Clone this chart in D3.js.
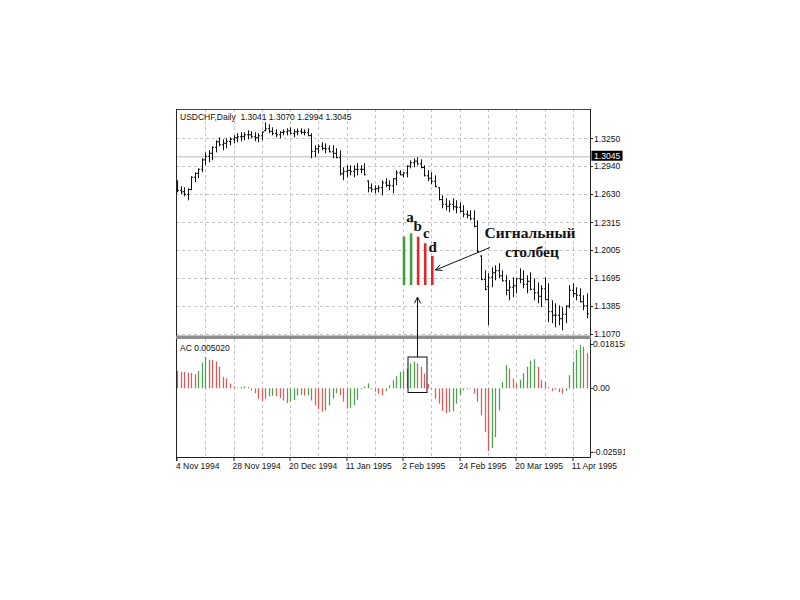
<!DOCTYPE html>
<html><head><meta charset="utf-8">
<script src="https://cdn.jsdelivr.net/npm/d3@7/dist/d3.min.js"></script>
<style>body{margin:0;background:#fff}svg{display:block}</style>
</head><body>
<svg id="c" width="800" height="600"></svg>
<script>
// ---------- data ----------
const tickLabels = ["4 Nov 1994","28 Nov 1994","20 Dec 1994","11 Jan 1995","2 Feb 1995","24 Feb 1995","20 Mar 1995","11 Apr 1995"];
const tickIndex  = [0,16,32,48,64,80,96,112];
const priceTicks = [1.3250,1.2940,1.2630,1.2315,1.2005,1.1695,1.1385,1.1070];
const acTicks    = [0.018158,0.00,-0.02591];
const acTickText = ["0.018158","0.00","-0.02591"];
const lastPrice  = 1.3045;
const headerText = "USDCHF,Daily  1.3041 1.3070 1.2994 1.3045";
const acHeader   = "AC 0.005020";

const high = [1.2783,1.2716,1.2705,1.2694,1.2827,1.2872,1.2916,1.3028,1.3094,1.3117,
1.3161,1.3228,1.3261,1.3239,1.3250,1.3261,1.3283,1.3306,1.3317,1.3317,
1.3339,1.3328,1.3317,1.3306,1.3328,1.3428,1.3406,1.3372,1.3350,1.3328,
1.3350,1.3361,1.3372,1.3350,1.3361,1.3361,1.3350,1.3361,1.3306,1.3172,
1.3183,1.3206,1.3194,1.3172,1.3172,1.3139,1.3117,1.2927,1.2950,1.2950,
1.2950,1.2972,1.2950,1.2972,1.2783,1.2749,1.2727,1.2727,1.2783,1.2805,
1.2783,1.2805,1.2894,1.2894,1.2872,1.2950,1.3005,1.3028,1.3039,1.3016,
1.2950,1.2894,1.2872,1.2838,1.2705,1.2616,1.2583,1.2560,1.2583,1.2560,
1.2538,1.2505,1.2449,1.2449,1.2449,1.2338,1.1949,1.1782,1.1749,1.1815,
1.1837,1.1860,1.1782,1.1726,1.1671,1.1704,1.1693,1.1804,1.1782,1.1726,
1.1760,1.1693,1.1648,1.1615,1.1704,1.1637,1.1448,1.1415,1.1393,1.1371,
1.1393,1.1615,1.1637,1.1593,1.1582,1.1504,1.1526];
const low = [1.2649,1.2627,1.2605,1.2560,1.2672,1.2761,1.2805,1.2872,1.2950,1.2983,
1.3005,1.3094,1.3161,1.3117,1.3139,1.3172,1.3194,1.3206,1.3217,1.3228,
1.3239,1.3250,1.3217,1.3206,1.3228,1.3328,1.3306,1.3283,1.3261,1.3250,
1.3283,1.3283,1.3295,1.3261,1.3283,1.3295,1.3283,1.3272,1.3028,1.3039,
1.3083,1.3117,1.3083,1.3094,1.3028,1.3028,1.2838,1.2783,1.2816,1.2838,
1.2816,1.2838,1.2861,1.2838,1.2649,1.2649,1.2638,1.2649,1.2616,1.2705,
1.2672,1.2638,1.2727,1.2838,1.2816,1.2816,1.2916,1.2927,1.2950,1.2916,
1.2827,1.2772,1.2738,1.2705,1.2560,1.2471,1.2449,1.2427,1.2449,1.2416,
1.2427,1.2371,1.2360,1.2338,1.2260,1.1982,1.1671,1.1559,1.1170,1.1593,
1.1671,1.1693,1.1660,1.1504,1.1448,1.1482,1.1526,1.1637,1.1582,1.1526,
1.1559,1.1448,1.1415,1.1371,1.1448,1.1204,1.1193,1.1148,1.1170,1.1114,
1.1193,1.1360,1.1482,1.1448,1.1426,1.1337,1.1248];
const open = [1.2740,1.2672,1.2655,1.2627,1.2680,1.2816,1.2860,1.2905,1.3010,1.3050,
1.3083,1.3150,1.3211,1.3178,1.3195,1.3216,1.3239,1.3256,1.3267,1.3272,
1.3289,1.3289,1.3267,1.3256,1.3278,1.3335,1.3356,1.3328,1.3305,1.3289,
1.3316,1.3322,1.3333,1.3305,1.3322,1.3328,1.3316,1.3316,1.3280,1.3105,
1.3133,1.3161,1.3138,1.3133,1.3100,1.3083,1.3035,1.2855,1.2883,1.2894,
1.2883,1.2905,1.2905,1.2905,1.2775,1.2699,1.2683,1.2688,1.2700,1.2755,
1.2727,1.2722,1.2800,1.2866,1.2844,1.2865,1.2940,1.2978,1.2995,1.2966,
1.2925,1.2833,1.2805,1.2772,1.2700,1.2568,1.2516,1.2494,1.2516,1.2488,
1.2483,1.2438,1.2405,1.2394,1.2355,1.2270,1.1940,1.1680,1.1600,1.1704,
1.1754,1.1777,1.1721,1.1665,1.1560,1.1593,1.1610,1.1688,1.1682,1.1626,
1.1660,1.1571,1.1532,1.1493,1.1576,1.1455,1.1321,1.1282,1.1282,1.1243,
1.1293,1.1385,1.1560,1.1521,1.1504,1.1432,1.1387];
const close = [1.2672,1.2655,1.2627,1.2680,1.2816,1.2860,1.2905,1.3010,1.3050,1.3083,
1.3150,1.3211,1.3178,1.3195,1.3216,1.3239,1.3256,1.3267,1.3272,1.3289,
1.3289,1.3267,1.3256,1.3278,1.3320,1.3356,1.3328,1.3305,1.3289,1.3316,
1.3322,1.3333,1.3305,1.3322,1.3328,1.3316,1.3316,1.3280,1.3105,1.3133,
1.3161,1.3138,1.3133,1.3100,1.3083,1.3035,1.2855,1.2883,1.2894,1.2883,
1.2905,1.2905,1.2905,1.2845,1.2699,1.2683,1.2688,1.2700,1.2755,1.2727,
1.2722,1.2800,1.2866,1.2844,1.2865,1.2940,1.2978,1.2995,1.2966,1.2925,
1.2833,1.2805,1.2772,1.2712,1.2568,1.2516,1.2494,1.2516,1.2488,1.2483,
1.2438,1.2405,1.2394,1.2355,1.2270,1.1990,1.1680,1.1570,1.1704,1.1754,
1.1777,1.1721,1.1665,1.1560,1.1593,1.1610,1.1688,1.1682,1.1626,1.1660,
1.1571,1.1532,1.1493,1.1576,1.1455,1.1321,1.1282,1.1282,1.1243,1.1293,
1.1385,1.1560,1.1521,1.1504,1.1432,1.1387,1.1300];
const ac = [0.0071,0.0068,0.0067,0.0064,0.0063,0.0058,0.0071,0.0106,0.0129,0.0117,
0.0116,0.0109,0.0088,0.0047,0.0040,0.0019,0.0008,0.0003,0.0005,0.0008,
0.0005,-0.0008,-0.0020,-0.0043,-0.0052,-0.0043,-0.0033,-0.0030,-0.0032,-0.0040,
-0.0050,-0.0060,-0.0056,-0.0048,-0.0030,-0.0027,-0.0030,-0.0028,-0.0050,-0.0070,
-0.0085,-0.0096,-0.0090,-0.0070,-0.0042,-0.0020,-0.0028,-0.0055,-0.0083,-0.0080,
-0.0069,-0.0047,-0.0004,0.0007,0.0020,-0.0003,-0.0014,-0.0023,-0.0029,-0.0012,
0.0012,0.0033,0.0050,0.0067,0.0072,0.0081,0.0102,0.0109,0.0102,0.0088,
0.0061,0.0017,-0.0004,-0.0043,-0.0063,-0.0092,-0.0102,-0.0098,-0.0094,-0.0063,
-0.0028,-0.0008,-0.0004,0.0002,-0.0021,-0.0055,-0.0110,-0.0180,-0.0257,-0.0245,
-0.0200,-0.0091,0.0026,0.0095,0.0081,0.0040,0.0020,0.0035,0.0062,0.0088,
0.0113,0.0119,0.0088,0.0033,0.0027,0.0005,-0.0012,-0.0006,-0.0016,-0.0022,
-0.0010,0.0054,0.0109,0.0157,0.0177,0.0170,0.0144];
const signalIndex = [66,67,68,69,70];
const signalLabels = ["","a","b","c","d"];
const noteLines = ["Сигнальный","столбец"];

// ---------- drawing ----------
const svg = d3.select("#c");
const L = 176, R = 590, T = 109, B = 457;
const GREEN = "#4c9f4c", RED = "#e05858";
const sans = "'Liberation Sans', Arial, sans-serif";
const serif = "'Liberation Serif', 'Times New Roman', serif";

svg.append("defs").append("clipPath").attr("id","cl")
  .append("rect").attr("x",0).attr("y",0).attr("width",625).attr("height",600);
const g = svg.append("g").attr("clip-path","url(#cl)");

const x = d3.scaleLinear().domain([0, high.length - 1]).range([177, 587]);
const px = i => Math.round(x(i)) + 0.5;
const yP = d3.scaleLinear().domain([1.1051, 1.3576]).range([336, T]);
const yA = d3.scaleLinear().domain([-0.02816, 0.0202]).range([B, 339]);

// grid
const gridC = "#c4c4c4";
const vgrid = d3.range(8, high.length, 8);
g.selectAll(".vg").data(vgrid).join("line")
  .attr("x1", px).attr("x2", px).attr("y1", T).attr("y2", 336)
  .attr("stroke", gridC).attr("stroke-dasharray","3,3");
g.selectAll(".vg2").data(vgrid).join("line")
  .attr("x1", px).attr("x2", px).attr("y1", 339).attr("y2", B)
  .attr("stroke", gridC).attr("stroke-dasharray","3,3");
g.selectAll(".hg").data(priceTicks).join("line")
  .attr("x1", L).attr("x2", R).attr("y1", d => Math.round(yP(d)) + 0.5).attr("y2", d => Math.round(yP(d)) + 0.5)
  .attr("stroke", gridC).attr("stroke-dasharray","3,3");

// last price line
g.append("line").attr("x1", L).attr("x2", R)
  .attr("y1", yP(lastPrice)).attr("y2", yP(lastPrice))
  .attr("stroke", "#cfcfcf").attr("stroke-width", 1.6);

// price bars
const bars = g.append("g").attr("stroke", "#111").attr("stroke-width", 1);
high.forEach((h, i) => {
  const xi = px(i);
  bars.append("line").attr("x1", xi).attr("x2", xi).attr("y1", yP(h)).attr("y2", yP(low[i]));
  bars.append("line").attr("x1", xi - 1.5).attr("x2", xi).attr("y1", yP(open[i])).attr("y2", yP(open[i]));
  bars.append("line").attr("x1", xi).attr("x2", xi + 1.5).attr("y1", yP(close[i])).attr("y2", yP(close[i]));
});

// AC histogram
const acCol = i => (i === 0 ? RED : (ac[i] > ac[i - 1] ? GREEN : RED));
g.selectAll(".ac").data(ac).join("line")
  .attr("x1", (d, i) => px(i)).attr("x2", (d, i) => px(i))
  .attr("y1", yA(0)).attr("y2", d => yA(d))
  .attr("stroke", (d, i) => acCol(i)).attr("stroke-width", 1.25);

// frame
g.append("line").attr("x1", L).attr("x2", R + 0.5).attr("y1", T + 0.5).attr("y2", T + 0.5).attr("stroke", "#444");
g.append("line").attr("x1", L + 0.5).attr("x2", L + 0.5).attr("y1", T).attr("y2", B + 4).attr("stroke", "#222");
g.append("line").attr("x1", R + 0.5).attr("x2", R + 0.5).attr("y1", T).attr("y2", B + 0.5).attr("stroke", "#222");
g.append("line").attr("x1", L).attr("x2", R + 0.5).attr("y1", B + 0.5).attr("y2", B + 0.5).attr("stroke", "#222");
g.append("rect").attr("x", L).attr("y", 335.5).attr("width", R - L + 1).attr("height", 3.5).attr("fill", "#8e8e8e");

// right price axis
g.selectAll(".pt").data(priceTicks).join("line")
  .attr("x1", R).attr("x2", R + 3).attr("y1", d => Math.round(yP(d)) + 0.5).attr("y2", d => Math.round(yP(d)) + 0.5)
  .attr("stroke", "#222");
g.selectAll(".ptl").data(priceTicks).join("text")
  .attr("x", R + 4).attr("y", d => yP(d) + 3.2)
  .attr("font-family", sans).attr("font-size", 8.6).attr("fill", "#111")
  .text(d => d.toFixed(4));

// last price label
g.append("rect").attr("x", 591.5).attr("y", yP(lastPrice) - 6).attr("width", 31).attr("height", 10).attr("fill", "#000");
g.append("text").attr("x", 594).attr("y", yP(lastPrice) + 2.5)
  .attr("font-family", sans).attr("font-size", 8.6).attr("fill", "#fff").text(lastPrice.toFixed(4));

// AC axis
g.selectAll(".at").data(acTicks).join("line")
  .attr("x1", R).attr("x2", R + 3).attr("y1", d => Math.round(yA(d)) + 0.5).attr("y2", d => Math.round(yA(d)) + 0.5)
  .attr("stroke", "#222");
g.selectAll(".atl").data(acTicks).join("text")
  .attr("x", R + 3).attr("y", d => yA(d) + 3.2)
  .attr("font-family", sans).attr("font-size", 8.6).attr("fill", "#111")
  .text((d, i) => acTickText[i]);

// date axis
g.selectAll(".dt").data(tickIndex).join("line")
  .attr("x1", d => px(d) - 0.5).attr("x2", d => px(d) - 0.5).attr("y1", B).attr("y2", B + 4)
  .attr("stroke", "#222");
g.selectAll(".dtl").data(tickIndex).join("text")
  .attr("x", d => x(d) - 1).attr("y", B + 12)
  .attr("font-family", sans).attr("font-size", 8.5).attr("fill", "#111")
  .text((d, i) => tickLabels[i]);

// headers
g.append("text").attr("x", 180).attr("y", 119.5).attr("font-family", sans).attr("font-size", 8.5)
  .attr("fill", "#111").style("white-space","pre").text(headerText);
g.append("text").attr("x", 180).attr("y", 350.5).attr("font-family", sans).attr("font-size", 8.5)
  .attr("fill", "#111").text(acHeader);

// ---------- annotation ----------
const ax = d3.scaleLinear().domain([signalIndex[0], signalIndex[signalIndex.length - 1]]).range([404, 432.3]);
const ay = d3.scaleLinear().domain([0, 0.0109]).range([285, 233.3]);
const labelGap = [0, 11.5, 6, 5, 3.7];
const labelDx  = [0, -1.2, -0.5, 1.2, 0.3];
signalIndex.forEach((si, k) => {
  g.append("line").attr("x1", ax(si)).attr("x2", ax(si)).attr("y1", ay(0)).attr("y2", ay(ac[si]))
    .attr("stroke", ac[si] > ac[si - 1] ? "#3f9f3f" : "#e3262b").attr("stroke-width", 2.6);
  if (signalLabels[k]) {
    g.append("text").attr("x", ax(si) + labelDx[k]).attr("y", ay(ac[si]) - labelGap[k])
      .attr("text-anchor", "middle").attr("font-family", serif).attr("font-weight", "bold")
      .attr("font-size", 15).attr("fill", "#111").text(signalLabels[k]);
  }
});
g.append("text").attr("x", 530).attr("y", 238).attr("text-anchor", "middle")
  .attr("font-family", serif).attr("font-weight", "bold").attr("font-size", 15.5).attr("fill", "#111").text(noteLines[0]);
g.append("text").attr("x", 532).attr("y", 257).attr("text-anchor", "middle")
  .attr("font-family", serif).attr("font-weight", "bold").attr("font-size", 15.5).attr("fill", "#111").text(noteLines[1]);

function arrow(x1, y1, x2, y2) {
  g.append("line").attr("x1", x1).attr("y1", y1).attr("x2", x2).attr("y2", y2).attr("stroke", "#111").attr("stroke-width", 1);
  const a = Math.atan2(y1 - y2, x1 - x2), len = 7, sp = 0.45;
  [a - sp, a + sp].forEach(b => {
    g.append("line").attr("x1", x2).attr("y1", y2)
      .attr("x2", x2 + len * Math.cos(b)).attr("y2", y2 + len * Math.sin(b))
      .attr("stroke", "#111").attr("stroke-width", 1);
  });
}
arrow(490, 247.5, 435.5, 270);
const bx0 = px(signalIndex[0]) - 2.5, bx1 = px(signalIndex[signalIndex.length - 1]) + 2.5;
g.append("rect").attr("x", bx0).attr("y", 357).attr("width", bx1 - bx0).attr("height", 35.5)
  .attr("fill", "none").attr("stroke", "#111").attr("stroke-width", 1);
arrow(417.5, 357, 417.5, 297);
</script>
</body></html>
